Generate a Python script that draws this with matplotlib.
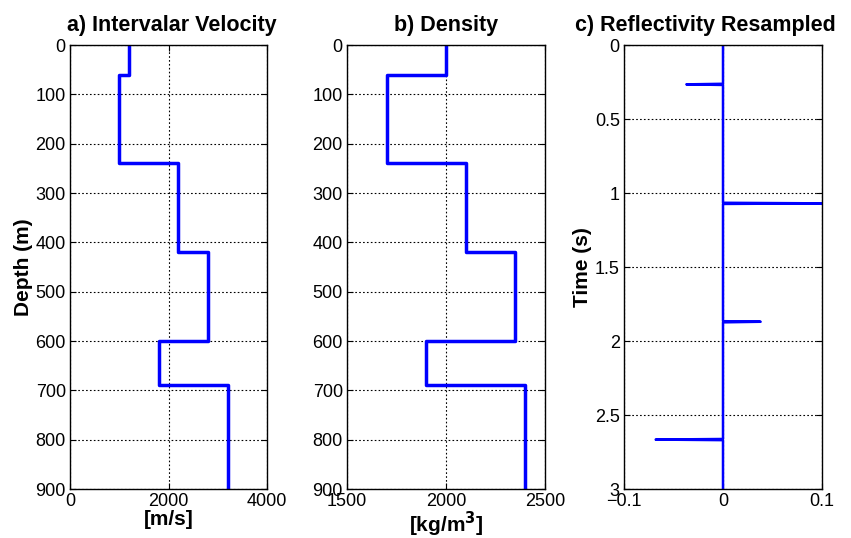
import matplotlib
matplotlib.use("Agg")
import matplotlib.pyplot as plt
import numpy as np

plt.rcParams['font.family'] = ['Liberation Sans', 'DejaVu Sans']

# Layer model
layer_tops = [0, 60, 240, 420, 600, 690]
layer_bottoms = [60, 240, 420, 600, 690, 900]
velocity = [1200, 1000, 2200, 2800, 1800, 3200]
density = [2000, 1700, 2100, 2350, 1900, 2400]

# Reflectivity spikes (time in s, amplitude)
spike_times = [0.266, 1.07, 1.87, 2.666]
spike_amps = [-0.037, 0.1, 0.038, -0.068]

def step_profile(vals):
    d, v = [], []
    for t, b, val in zip(layer_tops, layer_bottoms, vals):
        d += [t, b]
        v += [val, val]
    return v, d

fig = plt.figure(figsize=(8.51, 5.38), dpi=100)
W, H = 851, 538
def ax_at(l, r, t=45, b=489):
    return fig.add_axes([l / W, 1 - b / H, (r - l) / W, (b - t) / H])

axa = ax_at(70, 267)
axb = ax_at(347, 545)
axc = ax_at(624, 822)

blue = '#0000ff'
tfs = 13
title_fs = 15.5
label_fs = 15

def style(ax):
    ax.grid(True, color='black', linestyle=(0, (1.5, 2)), linewidth=0.8)
    ax.tick_params(direction='in', top=True, right=True, labelsize=tfs, length=4, pad=3)
    for s in ax.spines.values():
        s.set_linewidth(1.0)

v, d = step_profile(velocity)
axa.plot(v, d, color=blue, linewidth=2.5)
axa.set_xlim(0, 4000)
axa.set_ylim(900, 0)
axa.set_xticks([0, 2000, 4000])
axa.set_yticks(range(0, 901, 100))
axa.set_title('a) Intervalar Velocity', fontsize=title_fs, fontweight='bold', pad=10, x=0.515)
axa.set_ylabel('Depth (m)', fontsize=label_fs, fontweight='bold', labelpad=2)
axa.set_xlabel('[m/s]', fontsize=label_fs, fontweight='bold', labelpad=0)
style(axa)

r, d = step_profile(density)
axb.plot(r, d, color=blue, linewidth=2.5)
axb.set_xlim(1500, 2500)
axb.set_ylim(900, 0)
axb.set_xticks([1500, 2000, 2500])
axb.set_yticks(range(0, 901, 100))
axb.set_title('b) Density', fontsize=title_fs, fontweight='bold', pad=10)
axb.set_xlabel('[kg/m$^\\mathbf{3}$]', fontsize=label_fs, fontweight='bold', labelpad=0)
style(axb)

tt = [0.0]
aa = [0.0]
for t, a in zip(spike_times, spike_amps):
    tt += [t - 0.004, t, t + 0.004]
    aa += [0.0, a, 0.0]
tt.append(3.0)
aa.append(0.0)
axc.plot(aa, tt, color=blue, linewidth=1.8)
axc.set_xlim(-0.1, 0.1)
axc.set_ylim(3, 0)
axc.set_xticks([-0.1, 0, 0.1])
axc.set_xticklabels(['\u22120.1', '0', '0.1'])
yt = [0, 0.5, 1, 1.5, 2, 2.5, 3]
axc.set_yticks(yt)
axc.set_yticklabels(['0', '0.5', '1', '1.5', '2', '2.5', '3'])
axc.set_title('c) Reflectivity Resampled', fontsize=title_fs, fontweight='bold', pad=10, x=0.413)
axc.set_ylabel('Time (s)', fontsize=label_fs, fontweight='bold', labelpad=2)
style(axc)

fig.savefig('out.png', dpi=100)
